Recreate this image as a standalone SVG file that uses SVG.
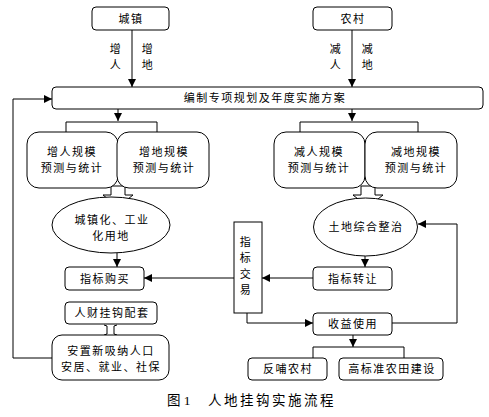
<svg xmlns="http://www.w3.org/2000/svg" width="489" height="417" viewBox="0 0 489 417">
<style>
.b{fill:#fff;stroke:#000;stroke-width:1}
.l{fill:none;stroke:#000;stroke-width:1}
.t{font-family:"Noto Sans CJK SC","Noto Sans CJK JP",sans-serif;font-size:11px;letter-spacing:1.5px;text-anchor:middle;fill:#000}
.cap{font-family:"Liberation Serif","Noto Sans CJK SC",serif;font-size:13.5px;fill:#000}
</style>
<defs>
<marker id="ar" viewBox="0 0 8 8" refX="8" refY="4" markerWidth="8" markerHeight="8" markerUnits="userSpaceOnUse" orient="auto">
<path d="M0,0 L8,4 L0,8 Z" fill="#000"/>
</marker>
</defs>
<rect width="489" height="417" fill="#fff"/>
<g id="connectors">
<path class="l" d="M132,30 L132,87" marker-end="url(#ar)"/>
<path class="l" d="M352,30 L352,87" marker-end="url(#ar)"/>
<path class="l" d="M52,358 L13,358 L13,99 L52,99" marker-end="url(#ar)"/>
<path class="l" d="M118,109 L118,121" marker-end="url(#ar)"/>
<path class="l" d="M66,133 L66,122 L157,122 L157,133"/>
<path class="l" d="M352,109 L352,121" marker-end="url(#ar)"/>
<path class="l" d="M300,133 L300,122 L418,122 L418,133"/>
<path class="b" d="M111,186 L125,186 L125,195 L133,195 L118,207 L103,195 L111,195 Z"/>
<path class="b" d="M361,186 L375,186 L375,195 L383,195 L368,207 L353,195 L361,195 Z"/>
<path class="l" d="M117,253 L117,267" marker-end="url(#ar)"/>
<path class="l" d="M365,256 L365,267" marker-end="url(#ar)"/>
<path class="l" d="M313,278 L262,278" marker-end="url(#ar)"/>
<path class="l" d="M234,278 L144,278" marker-end="url(#ar)"/>
<path class="l" d="M247,313 L247,323 L313,323" marker-end="url(#ar)"/>
<path class="l" d="M392,323 L457,323 L457,224 L418,224" marker-end="url(#ar)"/>
<path class="l" d="M353,335 L353,347" marker-end="url(#ar)"/>
<path class="l" d="M313,358 L313,347 L404,347 L404,358"/>
<path class="l" d="M104,325 L107,326 L107,334 L104,335 M117,325 L114,326 L114,334 L117,335"/>
<text class="t"><tspan x="116" y="52.5">增</tspan><tspan x="116" y="68.5">人</tspan></text>
<text class="t"><tspan x="148" y="52.5">增</tspan><tspan x="148" y="68.5">地</tspan></text>
<text class="t"><tspan x="336" y="52.5">减</tspan><tspan x="336" y="68.5">人</tspan></text>
<text class="t"><tspan x="368" y="52.5">减</tspan><tspan x="368" y="68.5">地</tspan></text>
</g>
<g id="chengzhen">
<rect class="b" x="92" y="7" width="77" height="23" rx="4"/>
<text class="t" x="131" y="22.5">城镇</text>
</g>
<g id="nongcun">
<rect class="b" x="313" y="7" width="79" height="23" rx="4"/>
<text class="t" x="353" y="22.5">农村</text>
</g>
<g id="plan">
<rect class="b" x="52" y="87" width="431" height="22" rx="4"/>
<text class="t" x="265" y="102">编制专项规划及年度实施方案</text>
</g>
<g id="zengren">
<rect class="b" x="27" y="132" width="91" height="56" rx="12"/>
<text class="t"><tspan x="72" y="155.5">增人规模</tspan><tspan x="72" y="171.5">预测与统计</tspan></text>
</g>
<g id="zengdi">
<rect class="b" x="117" y="132" width="92" height="56" rx="12"/>
<text class="t"><tspan x="164" y="155.5">增地规模</tspan><tspan x="164" y="171.5">预测与统计</tspan></text>
</g>
<g id="jianren">
<rect class="b" x="274" y="132" width="91" height="56" rx="12"/>
<text class="t"><tspan x="319" y="155.5">减人规模</tspan><tspan x="319" y="171.5">预测与统计</tspan></text>
</g>
<g id="jiandi">
<rect class="b" x="365" y="132" width="92" height="56" rx="12"/>
<text class="t"><tspan x="416" y="155.5">减地规模</tspan><tspan x="416" y="171.5">预测与统计</tspan></text>
</g>
<g id="chengzhenhua">
<ellipse class="b" cx="111" cy="225" rx="59" ry="28"/>
<text class="t"><tspan x="112" y="224">城镇化、工业</tspan><tspan x="111" y="240">化用地</tspan></text>
</g>
<g id="tudi">
<ellipse class="b" cx="365.5" cy="227" rx="52" ry="29"/>
<text class="t" x="366" y="231">土地综合整治</text>
</g>
<g id="goumai">
<rect class="b" x="65" y="267" width="79" height="23" rx="4"/>
<text class="t" x="105" y="282.5">指标购买</text>
</g>
<g id="zhuanrang">
<rect class="b" x="313" y="267" width="79" height="23" rx="4"/>
<text class="t" x="353" y="282.5">指标转让</text>
</g>
<g id="jiaoyi">
<rect class="b" x="234" y="222" width="28" height="91"/>
<text class="t"><tspan x="246" y="246">指</tspan><tspan x="246" y="262">标</tspan><tspan x="246" y="278">交</tspan><tspan x="246" y="294">易</tspan></text>
</g>
<g id="shouyi">
<rect class="b" x="313" y="313" width="79" height="22" rx="4"/>
<text class="t" x="353" y="328">收益使用</text>
</g>
<g id="fanbu">
<rect class="b" x="248" y="358" width="79" height="22" rx="4"/>
<text class="t" x="288" y="373">反哺农村</text>
</g>
<g id="gaobiaozhun">
<rect class="b" x="339" y="358" width="104" height="22" rx="4"/>
<text class="t" x="392" y="373">高标准农田建设</text>
</g>
<g id="rencai">
<rect class="b" x="65" y="302" width="92" height="22" rx="4"/>
<text class="t" x="112" y="317">人财挂钩配套</text>
</g>
<g id="anzhi">
<rect class="b" x="52" y="335" width="117" height="45" rx="10"/>
<text class="t"><tspan x="111" y="355">安置新吸纳人口</tspan><tspan x="111" y="371">安居、就业、社保</tspan></text>
</g>
<g id="caption">
<text class="cap" x="167" y="405">图 1</text>
<text class="cap" x="208" y="405" style="letter-spacing:2.5px">人地挂钩实施流程</text>
</g>
</svg>
